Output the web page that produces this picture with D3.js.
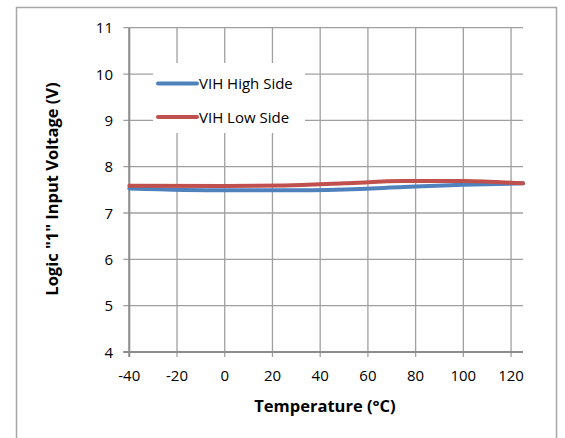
<!DOCTYPE html>
<html>
<head>
<meta charset="utf-8">
<script src="https://cdn.jsdelivr.net/npm/d3@7"></script>
<style>
  body { margin: 0; background: #fff; }
  svg { display: block; font-family: 'Open Sans', sans-serif; }
</style>
</head>
<body>
<svg id="chart" width="565" height="438"></svg>
<script>
const temps = [-40, 0, 25, 50, 75, 100, 125];
const vihHigh = [7.53, 7.49, 7.49, 7.51, 7.56, 7.61, 7.64];
const vihLow = [7.59, 7.585, 7.595, 7.64, 7.69, 7.69, 7.64];
const seriesNames = ['VIH High Side', 'VIH Low Side'];
const seriesColors = ['#4F81BD', '#C0504D'];
const xTicks = [-40, -20, 0, 20, 40, 60, 80, 100, 120];
const yTicks = [4, 5, 6, 7, 8, 9, 10, 11];

(function() {
  const svg = d3.select('#chart');
  const margin = {top: 27.7, left: 129.3, right: 523, bottom: 352};

  const x = d3.scaleLinear().domain([-40, 125]).range([margin.left, margin.right]);
  const y = d3.scaleLinear().domain([4, 11]).range([margin.bottom, margin.top]);

  // outer frame
  svg.append('rect')
    .attr('x', 16.5).attr('y', 7.5)
    .attr('width', 540).attr('height', 440)
    .attr('fill', 'none').attr('stroke', '#a6a6a6').attr('stroke-width', 1.5);

  // horizontal grid
  svg.append('g')
    .selectAll('line')
    .data(yTicks)
    .enter()
    .append('line')
    .attr('x1', margin.left - 6).attr('x2', margin.right)
    .attr('y1', d => y(d)).attr('y2', d => y(d))
    .attr('stroke', '#a0a0a0').attr('stroke-width', 1.3);

  // vertical grid
  svg.append('g')
    .selectAll('line')
    .data(xTicks)
    .enter()
    .append('line')
    .attr('x1', d => x(d)).attr('x2', d => x(d))
    .attr('y1', margin.top).attr('y2', margin.bottom + 5)
    .attr('stroke', '#a0a0a0').attr('stroke-width', 1.3);

  // axis lines
  svg.append('line')
    .attr('x1', margin.left).attr('x2', margin.left)
    .attr('y1', margin.top).attr('y2', margin.bottom + 5)
    .attr('stroke', '#8c8c8c').attr('stroke-width', 2);
  svg.append('line')
    .attr('x1', margin.left - 6).attr('x2', margin.right)
    .attr('y1', margin.bottom).attr('y2', margin.bottom)
    .attr('stroke', '#8c8c8c').attr('stroke-width', 2);

  // tick labels
  svg.append('g')
    .selectAll('text')
    .data(yTicks)
    .enter()
    .append('text')
    .attr('x', 113).attr('y', d => y(d) + 5.5)
    .attr('text-anchor', 'end')
    .attr('font-size', 15).attr('fill', '#000')
    .text(d => d);
  svg.append('g')
    .selectAll('text')
    .data(xTicks)
    .enter()
    .append('text')
    .attr('x', d => x(d)).attr('y', 381)
    .attr('text-anchor', 'middle')
    .attr('font-size', 15).attr('fill', '#000')
    .text(d => d);

  // axis titles
  svg.append('text')
    .attr('x', 325).attr('y', 412)
    .attr('text-anchor', 'middle')
    .attr('font-size', 16.5).attr('font-weight', 'bold').attr('fill', '#000')
    .text('Temperature (°C)');
  svg.append('text')
    .attr('transform', 'translate(58,189) rotate(-90)')
    .attr('text-anchor', 'middle')
    .attr('font-size', 16.5).attr('font-weight', 'bold').attr('fill', '#000')
    .text('Logic "1" Input Voltage (V)');

  // series
  const line = d3.line()
    .x((d, i) => x(temps[i]))
    .y(d => y(d))
    .curve(d3.curveMonotoneX);
  [vihHigh, vihLow].forEach((vals, k) => {
    svg.append('path')
      .attr('d', line(vals))
      .attr('fill', 'none')
      .attr('stroke', seriesColors[k])
      .attr('stroke-width', 4)
      .attr('stroke-linecap', 'round');
  });

  // legend
  const legend = svg.append('g');
  legend.append('rect')
    .attr('x', 153).attr('y', 63).attr('width', 152).attr('height', 70)
    .attr('fill', '#fff');
  seriesNames.forEach((name, k) => {
    const ly = 83.5 + k * 33.5;
    legend.append('line')
      .attr('x1', 158).attr('x2', 197)
      .attr('y1', ly).attr('y2', ly)
      .attr('stroke', seriesColors[k]).attr('stroke-width', 4)
      .attr('stroke-linecap', 'round');
    legend.append('text')
      .attr('x', 199).attr('y', ly + 5.5)
      .attr('font-size', 15).attr('fill', '#000')
      .text(name);
  });
})();
</script>
</body>
</html>
